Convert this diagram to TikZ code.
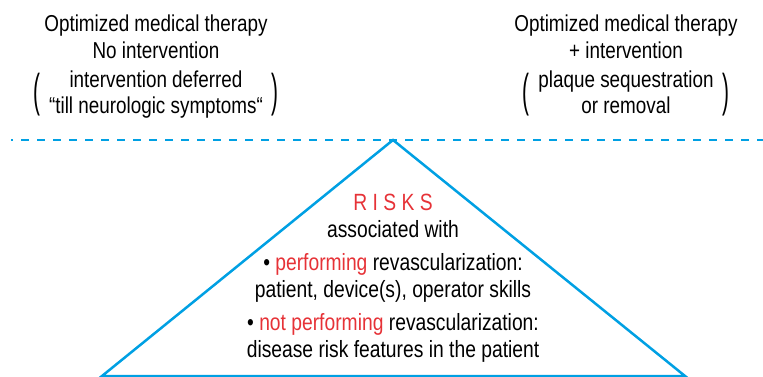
\documentclass[tikz,border=0pt]{standalone}
\usepackage{fontspec}
\setmainfont{Liberation Sans}[FakeStretch=0.82]
\usepackage{graphicx}
\usetikzlibrary{positioning}
\definecolor{lineblue}{RGB}{0,160,227}
\definecolor{riskred}{RGB}{230,50,55}
\newcommand{\tallparen}[1]{$\vcenter{\hbox{\scalebox{1.1}[2.0]{#1}}}$}
\newcommand{\hl}[1]{\textcolor{riskred}{#1}}

\begin{document}
\begin{tikzpicture}[x=1pt, y=-1pt, thick,
  text node/.style={align=center, inner sep=0pt, font=\fontsize{23}{26.5}\selectfont},
  paren node/.style={inner sep=0pt, font=\fontsize{23}{26.5}\selectfont},
  risk node/.style={align=center, inner sep=0pt, font=\fontsize{23.5}{27}\selectfont},
  blue line/.style={draw=lineblue, line width=2.5pt}]

  \useasboundingbox (0,0) rectangle (763,377);

  % the two options above the line
  \node[text node] (omt) at (156,37) {Optimized medical therapy\\No intervention};
  \node[paren node] (deferred) [below=9pt of omt] {\tallparen{(}\begin{tabular}{@{\hspace{9pt}}c@{\hspace{9pt}}}intervention deferred\\“till neurologic symptoms“\end{tabular}\tallparen{)}};

  \node[text node] (omtplus) at (626,37) {Optimized medical therapy\\+ intervention};
  \node[paren node] (removal) [below=9pt of omtplus] {\tallparen{(}\begin{tabular}{@{\hspace{9pt}}c@{\hspace{9pt}}}plaque sequestration\\or removal\end{tabular}\tallparen{)}};

  % dashed line and triangle
  \coordinate (dl) at (11,140);
  \coordinate (dr) at (763,140);
  \coordinate (apex) at (393,140);
  \coordinate (bl) at (102,376);
  \coordinate (br) at (685,376);

  \draw[blue line, dash pattern=on 8pt off 8pt, dash phase=6pt] (dl) -- (dr);
  \draw[blue line, line join=miter] (bl) -- (apex) -- (br) -- cycle;

  \node[risk node] (risks) at (393,278) {\hl{R I S K S}\\
    associated with\\[6pt]
    • \hl{performing} revascularization:\\
    patient, device(s), operator skills\\[6pt]
    • \hl{not performing} revascularization:\\
    disease risk features in the patient};

\end{tikzpicture}
\end{document}
